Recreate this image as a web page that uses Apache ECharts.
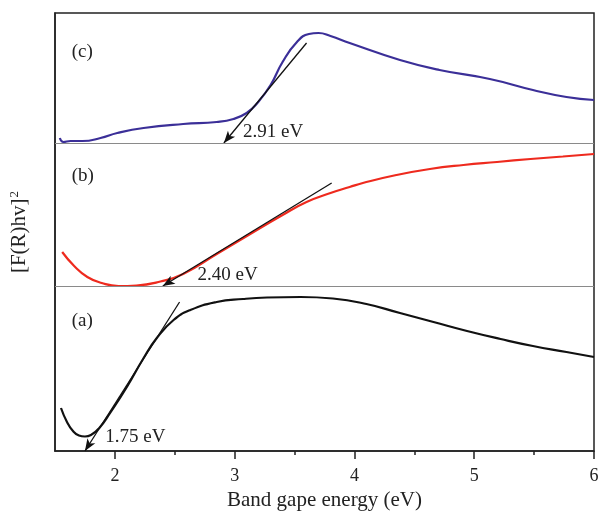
<!DOCTYPE html>
<html>
<head>
<meta charset="utf-8">
<script src="https://cdn.jsdelivr.net/npm/echarts@6/dist/echarts.min.js"></script>
<style>
  html, body { margin: 0; padding: 0; background: #fff; }
  #chart { width: 602px; height: 519px; }
</style>
</head>
<body>
<div id="chart"></div>
<script>
// curves, [energy (eV), stacked intensity (a.u.)]
const curveA = [[1.55, 43], [1.60, 29], [1.65, 20], [1.70, 15.5], [1.75, 14.5], [1.80, 16], [1.87, 23],
  [1.96, 38], [2.10, 64], [2.24, 93], [2.35, 113], [2.49, 131], [2.63, 141], [2.85, 149], [3.07, 152],
  [3.27, 153.5], [3.55, 154], [3.82, 152.5], [4.10, 147], [4.38, 138], [4.66, 129], [4.94, 120],
  [5.22, 112], [5.49, 105], [5.77, 99], [6.0, 94]];
const curveB = [[1.56, 199], [1.66, 185], [1.77, 174], [1.89, 168], [2.03, 165], [2.18, 165.5],
  [2.38, 169.5], [2.57, 177], [2.85, 197], [3.13, 217], [3.40, 236], [3.60, 249], [3.80, 258],
  [3.96, 264], [4.07, 268], [4.35, 276], [4.63, 282], [4.91, 286], [5.19, 289], [5.47, 292],
  [5.74, 294.5], [6.0, 297]];
const curveC = [[1.54, 313], [1.57, 309], [1.63, 310], [1.73, 310], [1.88, 313], [2.02, 318],
  [2.24, 323], [2.57, 327], [2.85, 329], [2.99, 332], [3.10, 338], [3.19, 348], [3.30, 366],
  [3.40, 389], [3.52, 409], [3.62, 417], [3.70, 418], [3.80, 415], [3.96, 408],
  [4.38, 391], [4.71, 381], [5.13, 372], [5.49, 361], [5.77, 354], [6.0, 351]];

// tangent lines: [from, arrow tip]
const tangentA = [[2.54, 149], [1.75, 0]];
const tangentB = [[3.81, 268], [2.40, 165]];
const tangentC = [[3.60, 408], [2.91, 308]];

const baselines = [165, 308];
const majorTicks = [2, 3, 4, 5, 6];
const minorTicks = [2.5, 3.5, 4.5, 5.5];

// text labels in data coords
const panelLabels = [['(a)', 1.64, 130], ['(b)', 1.64, 275], ['(c)', 1.64, 399]];
const gapLabels = [['1.75 eV', 1.92, 14], ['2.40 eV', 2.69, 176], ['2.91 eV', 3.07, 319]];

const font = 'Liberation Serif';
const chart = echarts.init(document.getElementById('chart'));

function tangent(pts) {
  return {
    silent: true,
    symbol: ['none', 'arrow'],
    symbolSize: [7, 12],
    label: { show: false },
    lineStyle: { color: '#111', width: 1.3, type: 'solid' },
    data: [[{ coord: pts[0] }, { coord: pts[1] }]]
  };
}

const option = {
  animation: false,
  grid: { left: 55, right: 8, top: 13, bottom: 68, show: true, borderColor: '#222', borderWidth: 1.5 },
  xAxis: [{
    type: 'value', min: 1.5, max: 6, interval: 0.5,
    name: 'Band gape energy (eV)', nameLocation: 'middle', nameGap: 39,
    nameTextStyle: { fontFamily: font, fontSize: 21, color: '#222' },
    axisLine: { lineStyle: { color: '#222', width: 1.5 } },
    axisTick: { customValues: majorTicks, length: 8, lineStyle: { color: '#222', width: 1.5 } },
    axisLabel: { customValues: majorTicks, fontFamily: font, fontSize: 18, color: '#222', margin: 16 },
    splitLine: { show: false }
  }, {
    type: 'value', min: 1.5, max: 6, interval: 0.5, position: 'bottom',
    axisLine: { show: false },
    axisTick: { customValues: minorTicks, length: 4, lineStyle: { color: '#222', width: 1.5 } },
    axisLabel: { show: false },
    splitLine: { show: false }
  }],
  yAxis: {
    type: 'value', min: 0, max: 438,
    name: '[F(R)hv]{sup|2}', nameLocation: 'middle', nameGap: 24,
    nameTextStyle: {
      fontFamily: font, fontSize: 21, color: '#222',
      rich: { sup: { fontFamily: font, fontSize: 13, color: '#222', verticalAlign: 'top', padding: [0, 0, 10, 1] } }
    },
    axisLine: { show: true, lineStyle: { color: '#222', width: 1.5 } },
    axisTick: { show: false },
    axisLabel: { show: false },
    splitLine: { show: false }
  },
  series: [
    {
      type: 'line', data: curveA, smooth: 0.5, symbol: 'none',
      lineStyle: { color: '#111', width: 2.2 },
      markLine: tangent(tangentA)
    },
    {
      type: 'line', data: curveB, smooth: 0.5, symbol: 'none',
      lineStyle: { color: '#ee2a1e', width: 2.2 },
      markLine: tangent(tangentB)
    },
    {
      type: 'line', data: curveC, smooth: 0.5, symbol: 'none',
      lineStyle: { color: '#3b2f98', width: 2.2 },
      markLine: tangent(tangentC)
    },
    {
      type: 'line', data: [], symbol: 'none',
      markLine: {
        silent: true, symbol: 'none', label: { show: false },
        lineStyle: { color: '#8a8a8a', width: 1.2, type: 'solid' },
        data: baselines.map(v => ({ yAxis: v }))
      }
    }
  ]
};
chart.setOption(option);

const texts = [];
panelLabels.concat(gapLabels).forEach(function (t) {
  const p = chart.convertToPixel({ gridIndex: 0 }, [t[1], t[2]]);
  texts.push({
    type: 'text', x: p[0], y: p[1],
    style: { text: t[0], fontFamily: font, fontSize: 19, fill: '#222', textAlign: 'left', textVerticalAlign: 'middle' }
  });
});
chart.setOption({ graphic: texts });
</script>
</body>
</html>
